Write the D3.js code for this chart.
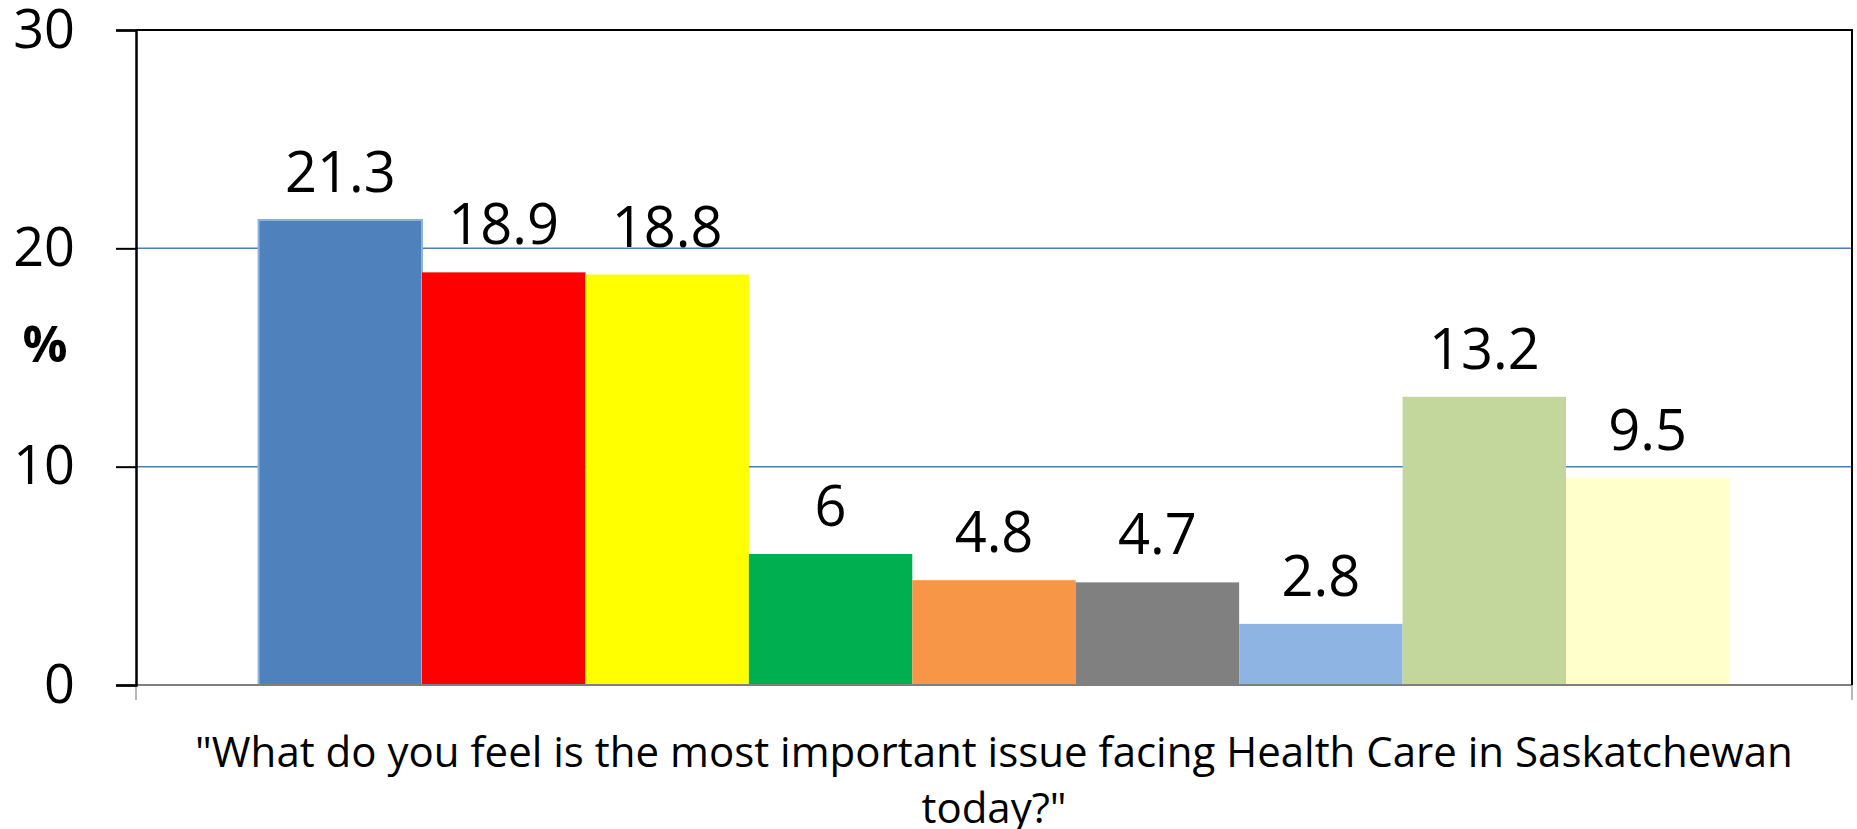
<!DOCTYPE html>
<html>
<head>
<meta charset="utf-8">
<script src="https://cdn.jsdelivr.net/npm/d3@7"></script>
<style>
  body { margin: 0; background: #fff; }
  svg { display: block; font-family: "Open Sans", sans-serif; }
</style>
</head>
<body>
<div id="chart"></div>
<script>
// Donnees
var series = ["s1", "s2", "s3", "s4", "s5", "s6", "s7", "s8", "s9"];
var valeurs = [21.3, 18.9, 18.8, 6, 4.8, 4.7, 2.8, 13.2, 9.5];
var couleurs = ["#4f81bd", "#ff0000", "#ffff00", "#00b050", "#f79646", "#808080", "#8eb4e3", "#c3d69b", "#ffffcc"];
var graduations = [0, 10, 20, 30];
var titreX = ["\"What do you feel is the most important issue facing Health Care in Saskatchewan", "today?\""];

var largeur = 1857, hauteur = 829;
var cadre = { gauche: 136, droite: 1852, haut: 30, bas: 685 };

var svg = d3.select("#chart").append("svg")
    .attr("width", largeur)
    .attr("height", hauteur);

// Echelles
var x = d3.scaleBand()
    .domain(series)
    .range([cadre.gauche, cadre.droite])
    .paddingInner(0)
    .paddingOuter(0.75);

var y = d3.scaleLinear()
    .domain([0, 30])
    .range([cadre.bas, cadre.haut]);

// Quadrillage
svg.selectAll("line.grille").data([10, 20]).enter().append("line")
    .attr("class", "grille")
    .attr("x1", cadre.gauche).attr("x2", cadre.droite)
    .attr("y1", function (d) { return y(d); })
    .attr("y2", function (d) { return y(d); })
    .attr("stroke", "#4a7ebb")
    .attr("stroke-width", 1.5);

// Barres
svg.selectAll("rect.barre").data(valeurs).enter().append("rect")
    .attr("class", "barre")
    .attr("x", function (d, i) { return x(series[i]); })
    .attr("y", function (d) { return y(d); })
    .attr("width", x.bandwidth())
    .attr("height", function (d) { return y(0) - y(d); })
    .attr("fill", function (d, i) { return couleurs[i]; })
    .attr("stroke", function (d, i) { return i === 0 ? "#8fb1de" : "none"; })
    .attr("stroke-width", 2);

// Etiquettes de valeurs
svg.selectAll("text.valeur").data(valeurs).enter().append("text")
    .attr("class", "valeur")
    .attr("x", function (d, i) { return x(series[i]) + x.bandwidth() / 2; })
    .attr("y", function (d) { return y(d) - 28; })
    .attr("text-anchor", "middle")
    .attr("font-size", 56)
    .attr("fill", "#000")
    .text(function (d) { return d; });

// Axe X (gris)
svg.append("line")
    .attr("x1", cadre.gauche).attr("x2", cadre.droite)
    .attr("y1", y(0)).attr("y2", y(0))
    .attr("stroke", "#7f7f7f").attr("stroke-width", 2);
svg.selectAll("line.tickx").data([cadre.gauche, cadre.droite]).enter().append("line")
    .attr("class", "tickx")
    .attr("x1", function (d) { return d; }).attr("x2", function (d) { return d; })
    .attr("y1", y(0)).attr("y2", y(0) + 15)
    .attr("stroke", "#a0a0a0").attr("stroke-width", 1.5);

// Bordure haut et droite
svg.append("path")
    .attr("d", "M" + cadre.gauche + "," + cadre.haut + "H" + cadre.droite + "V" + cadre.bas)
    .attr("fill", "none")
    .attr("stroke", "#000")
    .attr("stroke-width", 2);

// Axe Y
var axeY = d3.axisLeft(y)
    .tickValues(graduations)
    .tickSize(20)
    .tickPadding(41)
    .tickFormat(d3.format("d"));

var gY = svg.append("g")
    .attr("transform", "translate(" + cadre.gauche + ",0)")
    .call(axeY);
gY.select(".domain").attr("stroke", "#000").attr("stroke-width", 2.5);
gY.selectAll(".tick line").attr("stroke", "#000").attr("stroke-width", 2);
gY.selectAll(".tick text")
    .attr("font-family", "Open Sans, sans-serif")
    .attr("font-size", 54)
    .attr("fill", "#000");

// Titre Y
svg.append("text")
    .attr("x", 45)
    .attr("y", 344)
    .attr("dy", "0.36em")
    .attr("text-anchor", "middle")
    .attr("font-size", 50)
    .attr("font-weight", "bold")
    .text("%");

// Titre X
svg.selectAll("text.titrex").data(titreX).enter().append("text")
    .attr("class", "titrex")
    .attr("x", (cadre.gauche + cadre.droite) / 2)
    .attr("y", function (d, i) { return 752 + i * 56; })
    .attr("dy", "0.36em")
    .attr("text-anchor", "middle")
    .attr("font-size", 42)
    .attr("fill", "#000")
    .text(function (d) { return d; });
</script>
</body>
</html>
